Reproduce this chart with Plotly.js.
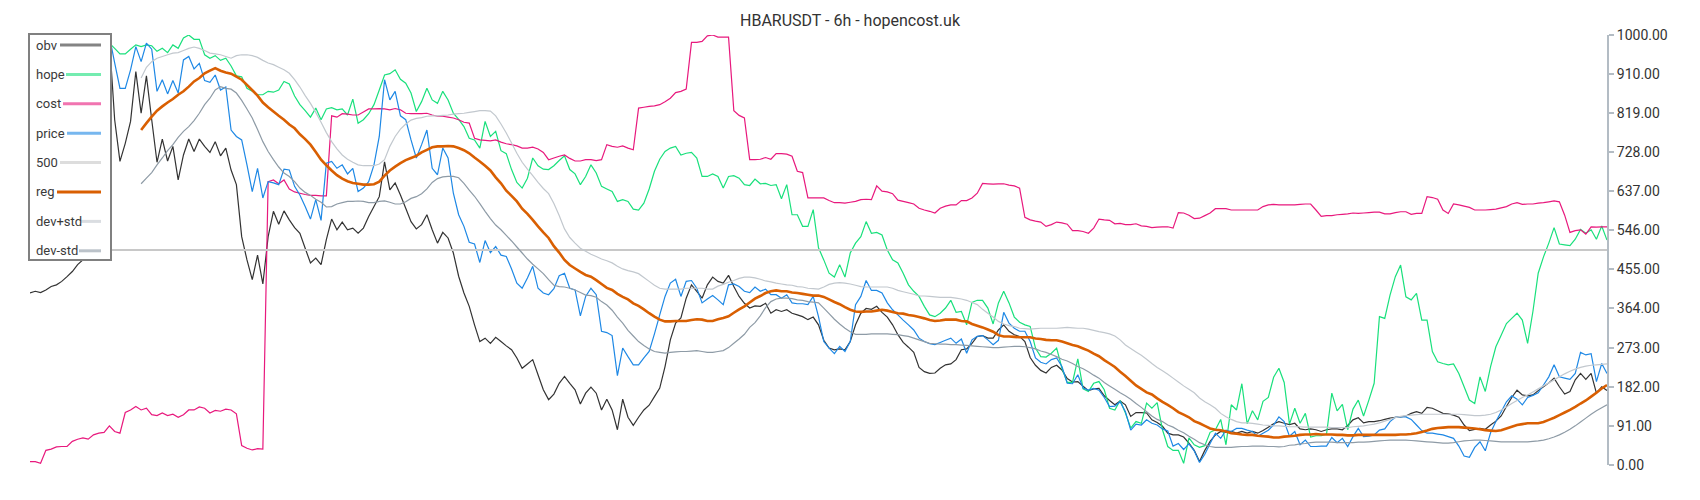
<!DOCTYPE html>
<html>
<head>
<meta charset="utf-8">
<script src="https://cdn.plot.ly/plotly-3.0.1.min.js"></script>
<style>html,body{margin:0;padding:0;background:#fff;}#chart{width:1700px;height:500px;}</style>
</head>
<body>
<div id="chart"></div>
<script>
// ---------------- data ----------------
const chartTitle = 'HBARUSDT - 6h - hopencost.uk';
const seriesNames = ['obv', 'hope', 'cost', 'price', '500', 'reg', 'dev+std', 'dev-std'];

const obv = [400,404,401,407,415,419,427,438,450,466,
 477,479,600,760,900,990,803,706,748,799,
 915,818,905,803,704,758,707,741,663,721,
 758,729,758,741,727,752,719,737,686,652,
 531,477,431,488,421,531,590,560,591,570,
 552,539,504,470,481,466,524,572,547,565,
 547,551,539,551,578,601,624,705,640,656,
 628,597,566,549,559,582,547,516,541,528,
 493,439,400,369,326,287,295,283,297,287,
 277,268,249,225,235,245,210,175,152,165,
 190,206,190,175,142,167,181,167,128,153,
 128,82,153,111,92,111,128,139,159,179,
 229,291,330,342,388,419,404,388,419,437,
 427,423,441,415,392,376,365,370,369,376,
 353,361,357,361,353,349,345,338,344,326,
 290,272,268,270,268,287,326,353,364,362,
 369,355,344,326,303,285,274,262,227,217,
 213,214,225,233,235,245,268,270,283,299,
 301,295,295,314,326,311,303,299,287,250,
 232,220,214,227,232,221,201,193,194,183,
 173,177,178,161,150,140,149,140,113,122,
 122,121,105,99,90,74,70,70,65,51,
 34,8,34,55,70,78,76,78,74,78,
 74,78,74,80,88,96,101,97,94,97,
 84,82,84,82,78,82,84,84,82,92,
 105,110,98,101,101,103,106,109,111,112,
 114,120,124,120,134,132,126,120,119,116,
 111,93,80,83,85,83,93,102,114,136,
 157,174,163,161,163,173,182,191,202,182,
 165,171,198,213,199,213,167,182,173];

const hope = [null,null,null,null,null,null,null,null,null,null,
 null,null,null,null,null,981,969,956,956,967,
 977,973,977,975,962,969,959,977,969,993,
 1000,990,990,954,946,952,941,946,928,905,
 903,876,869,861,861,869,867,872,892,886,
 858,838,824,809,830,803,828,831,826,828,
 814,851,795,803,817,838,872,907,910,919,
 897,888,865,822,845,876,849,841,869,849,
 818,804,787,760,756,737,799,764,776,731,
 724,687,657,644,667,714,696,688,687,696,
 708,719,687,677,652,671,698,679,648,642,
 636,613,617,613,595,593,609,642,683,711,
 729,737,741,721,725,727,714,671,671,677,
 671,644,671,673,667,652,650,665,654,655,
 650,652,619,652,582,582,555,555,594,505,
 477,446,437,466,437,493,516,531,566,539,
 541,535,500,477,470,446,419,404,392,369,
 349,345,353,365,383,355,357,326,378,383,
 383,365,328,377,404,377,344,332,326,322,
 272,252,251,260,272,225,192,192,247,177,
 171,190,194,175,132,128,150,121,86,101,
 97,144,132,145,82,43,34,34,4,63,
 47,41,45,76,82,106,47,140,128,189,
 96,126,105,148,157,204,225,192,95,132,
 97,120,65,68,68,72,167,126,141,82,
 130,151,114,151,190,345,341,395,438,465,
 391,384,399,337,337,264,240,236,233,235,
 213,182,151,143,205,171,229,275,302,329,
 341,353,337,283,357,446,484,516,552,514,
 512,510,525,548,539,547,525,556,523];

const cost = [8,8,4,34,37,42,43,43,55,60,
 63,60,70,74,76,91,78,74,122,128,
 136,128,132,117,115,121,115,118,111,117,
 128,128,135,132,121,127,125,130,128,119,
 45,39,35,38,37,659,663,654,663,642,
 635,632,629,627,627,626,626,812,809,817,
 816,814,814,821,828,828,829,828,826,829,
 826,818,817,817,817,818,814,811,811,809,
 807,803,797,795,760,756,755,754,756,751,
 747,745,742,737,737,739,735,727,710,714,
 718,721,713,707,707,710,710,708,710,745,
 741,739,742,737,733,830,832,834,835,838,
 845,853,866,869,874,983,983,985,998,1000,
 995,995,995,824,813,807,710,710,711,715,
 711,724,724,723,718,683,680,621,621,621,
 621,615,610,610,609,611,613,617,618,617,
 649,637,635,631,616,613,610,607,597,593,
 590,586,597,602,605,605,615,615,621,632,
 655,654,653,654,654,651,649,644,576,570,
 567,565,555,559,565,563,560,545,545,543,
 539,551,572,570,569,561,562,559,559,561,
 556,555,552,553,554,554,551,587,586,581,
 573,574,580,586,596,596,596,593,593,593,
 593,593,593,601,605,606,605,605,605,605,
 606,607,607,593,578,580,580,582,583,584,
 586,585,586,587,588,588,584,584,587,589,
 589,583,585,585,624,622,618,593,585,607,
 605,602,599,593,593,593,594,595,598,601,
 607,610,606,607,607,609,610,612,614,612,
 581,541,545,547,537,554,553,554,554];

const price = [null,null,null,null,null,null,null,null,null,null,
 null,null,null,null,null,997,935,876,876,919,
 973,938,981,967,869,896,863,894,865,942,
 950,921,934,894,890,907,872,879,779,764,
 756,698,636,690,621,659,656,652,688,686,
 648,628,601,572,617,569,702,706,690,698,
 677,690,636,644,659,698,764,896,849,869,
 812,803,756,714,745,779,690,675,737,714,
 632,582,555,518,514,471,522,494,508,488,
 485,456,423,411,435,462,411,400,396,410,
 440,446,411,407,347,392,411,396,311,308,
 301,208,272,252,233,233,249,264,305,349,
 392,423,432,392,427,429,411,377,386,394,
 384,373,419,421,415,404,401,414,404,409,
 396,396,388,396,377,375,375,373,392,345,
 287,272,259,276,264,287,373,392,429,406,
 406,400,377,361,349,337,326,314,295,287,
 282,280,285,290,295,283,293,260,291,299,
 301,291,280,290,355,330,318,311,311,287,
 249,239,235,245,249,229,190,189,210,179,
 174,178,174,157,136,137,147,124,81,95,
 93,105,97,93,84,79,44,50,36,49,
 33,6,25,50,74,62,81,78,85,85,
 81,78,67,74,81,93,112,101,67,78,
 47,58,43,43,44,44,64,52,62,43,
 66,85,66,67,70,81,84,101,111,112,
 112,106,93,80,74,74,72,70,66,62,
 44,21,18,41,54,33,75,101,124,147,
 161,153,140,157,162,168,186,205,233,205,
 202,199,213,262,256,259,194,236,213];

const level500X = [0, 298];
const level500Y = [500, 500];

const reg = [null,null,null,null,null,null,null,null,null,null,
 null,null,null,null,null,null,null,null,null,null,
 null,779,795,810,824,834,843,851,861,869,
 880,892,900,911,917,923,917,913,910,903,
 896,884,872,859,843,832,822,812,803,792,
 783,769,758,745,728,710,697,685,674,666,
 660,656,654,652,652,653,659,673,685,694,
 702,709,714,719,727,733,739,741,741,742,
 741,737,732,725,715,706,696,685,669,655,
 638,626,613,596,584,570,555,541,528,509,
 494,477,465,457,449,442,438,430,421,412,
 407,398,391,385,376,370,362,353,345,338,
 334,334,335,335,335,337,339,338,335,335,
 339,342,346,354,362,369,378,387,393,400,
 404,406,404,404,401,400,398,396,394,394,
 391,385,379,374,367,361,357,356,357,357,
 359,361,359,356,353,352,349,347,344,341,
 337,335,336,338,338,338,335,334,328,324,
 320,315,310,302,299,299,298,297,297,297,
 294,293,291,290,290,287,283,279,276,271,
 266,259,253,244,236,228,217,207,196,185,
 177,169,164,155,147,140,132,123,117,111,
 102,97,91,85,82,81,78,74,73,71,
 70,70,68,67,66,64,64,66,67,68,
 70,71,71,72,71,71,71,70,70,69,
 69,70,70,70,70,70,70,70,70,71,
 71,72,74,77,80,84,86,87,88,88,
 88,87,86,85,83,81,80,79,81,85,
 89,93,95,97,97,97,100,105,110,116,
 122,128,135,143,150,159,168,178,186];

const devPlus = [null,null,null,null,null,null,null,null,null,null,
 null,null,null,null,null,null,null,null,null,null,
 null,900,925,938,946,950,954,958,959,964,
 969,972,969,964,958,956,954,950,946,952,
 954,954,952,948,941,935,931,925,919,911,
 896,879,859,841,820,797,773,752,735,721,
 711,704,698,696,696,696,700,710,741,764,
 781,793,802,806,808,811,812,812,813,814,
 816,817,818,820,822,824,824,823,812,793,
 772,749,725,704,688,673,657,643,631,608,
 580,549,529,516,504,497,490,485,479,475,
 470,462,456,452,449,445,436,427,418,411,
 409,409,409,409,411,411,411,411,409,409,
 416,420,425,429,434,437,437,435,432,428,
 426,423,421,419,418,415,414,411,410,409,
 414,420,423,424,423,421,418,415,414,414,
 414,414,414,411,406,403,400,397,393,393,
 392,391,390,390,390,388,386,383,378,373,
 362,353,344,334,328,324,322,318,317,316,
 317,318,318,318,318,319,320,319,318,318,
 316,313,310,308,305,300,291,279,271,263,
 255,246,236,227,219,211,202,193,184,176,
 168,156,147,140,132,120,112,106,101,98,
 98,97,95,93,92,91,91,90,89,89,
 89,88,88,88,88,88,87,87,87,87,
 89,90,91,93,95,98,102,106,110,113,
 115,116,117,118,118,118,118,118,118,118,
 118,117,116,115,115,116,118,122,128,135,
 143,150,157,163,170,177,184,191,198,205,
 212,218,223,227,230,232,233,234,235];

const devMinus = [null,null,null,null,null,null,null,null,null,null,
 null,null,null,null,null,null,null,null,null,null,
 null,654,667,680,698,714,731,745,762,776,
 787,801,818,838,853,872,880,876,874,865,
 848,828,807,780,752,729,710,693,679,671,
 659,644,634,627,618,611,600,601,607,610,
 613,613,614,613,610,610,613,614,611,607,
 607,612,620,624,631,642,657,666,670,671,
 671,668,655,639,625,608,590,573,558,547,
 534,521,507,493,479,467,456,445,431,418,
 415,414,411,407,401,395,394,390,380,372,
 360,344,330,313,300,287,278,270,264,262,
 260,262,263,264,264,265,266,264,262,262,
 264,266,273,283,293,304,320,331,347,366,
 380,386,388,388,387,384,383,380,379,377,
 365,352,339,328,318,310,304,304,304,305,
 305,305,305,304,303,301,299,295,291,287,
 283,282,281,281,280,280,279,278,277,276,
 275,274,273,273,274,275,276,276,275,273,
 270,265,262,257,252,246,242,236,229,224,
 217,209,202,192,184,176,168,161,153,143,
 134,124,114,106,101,93,88,81,75,67,
 60,52,47,43,41,41,41,41,42,43,
 43,44,44,44,43,43,42,43,46,47,
 49,50,52,53,53,53,53,52,52,52,
 52,53,53,54,55,56,57,58,58,58,
 58,57,56,55,54,53,52,51,51,52,
 54,56,57,58,58,57,56,55,54,54,
 54,54,54,54,55,56,58,61,65,70,
 76,83,91,100,109,118,126,133,140];

const yTickVals = [0, 91, 182, 273, 364, 455, 546, 637, 728, 819, 910, 1000];
const yTickText = ['0.00','91.00','182.00','273.00','364.00','455.00','546.00','637.00','728.00','819.00','910.00','1000.00'];

// ---------------- sanity ----------------
[['obv',obv],['hope',hope],['cost',cost],['price',price],['reg',reg],['devPlus',devPlus],['devMinus',devMinus]].forEach(([n,a]) => {
  if (a.length !== obv.length) throw new Error(n + ' length ' + a.length + ' vs ' + obv.length);
});

// ---------------- traces ----------------
const idx = obv.map((_, i) => i);
const styles = {
  'obv':     {color: '#333333', width: 1.2},
  'hope':    {color: '#19e07c', width: 1.2},
  'cost':    {color: '#e8197d', width: 1.2},
  'price':   {color: '#1e88e5', width: 1.2},
  '500':     {color: '#c8c8c8', width: 2},
  'reg':     {color: '#d95f02', width: 2.6},
  'dev+std': {color: '#c2c8ce', width: 1.2},
  'dev-std': {color: '#8e9ba6', width: 1.2}
};
const ys = {'obv': obv, 'hope': hope, 'cost': cost, 'price': price, 'reg': reg, 'dev+std': devPlus, 'dev-std': devMinus};
const traces = seriesNames.map(name => {
  const isLevel = name === '500';
  return {
    type: 'scatter', mode: 'lines', name: name,
    x: isLevel ? level500X : idx,
    y: isLevel ? level500Y : ys[name],
    line: {color: styles[name].color, width: styles[name].width, simplify: false},
    hoverinfo: 'skip'
  };
});

// ---------------- custom legend (text left, swatch right) ----------------
const M = {l: 30, r: 93, t: 35, b: 35};
const W = 1700, H = 500;
const pw = W - M.l - M.r, ph = H - M.t - M.b;
const px2x = p => (p - M.l) / pw;
const px2y = p => (H - M.b - p) / ph;
const swatchStart = [60, 66, 63, 67, 60, 57, 81, 79];
const shapes = [{
  type: 'rect', xref: 'paper', yref: 'paper', layer: 'above',
  x0: px2x(29), x1: px2x(111), y0: px2y(260), y1: px2y(34),
  fillcolor: '#ffffff', line: {color: '#808080', width: 2}
}];
const annotations = [];
seriesNames.forEach((name, k) => {
  const yc = 45 + 29.4 * k;
  annotations.push({
    xref: 'paper', yref: 'paper', x: px2x(34), y: px2y(yc), xanchor: 'left', yanchor: 'middle',
    text: name, showarrow: false, font: {family: 'Roboto, sans-serif', size: 13, color: '#3a3a3a'}
  });
  shapes.push({
    type: 'line', xref: 'paper', yref: 'paper', layer: 'above',
    x0: px2x(swatchStart[k]), x1: px2x(101), y0: px2y(yc), y1: px2y(yc),
    line: {color: styles[name].color, width: 3}, opacity: name === 'reg' ? 1 : 0.6
  });
});

const layout = {
  width: W, height: H,
  margin: M,
  paper_bgcolor: '#ffffff', plot_bgcolor: '#ffffff',
  font: {family: 'Roboto, sans-serif', color: '#333'},
  title: {text: chartTitle, x: 0.5, xref: 'container', xanchor: 'center',
          y: 1 - 20.5 / H, yref: 'container', yanchor: 'middle',
          font: {family: 'Roboto, sans-serif', size: 16, color: '#333'}},
  showlegend: false,
  xaxis: {visible: false, range: [0, obv.length - 1], fixedrange: true},
  yaxis: {side: 'right', range: [0, 1000], tickvals: yTickVals, ticktext: yTickText,
          showline: true, linecolor: '#b3bcc4', linewidth: 2,
          ticks: 'outside', ticklen: 5, tickwidth: 2, tickcolor: '#b3bcc4',
          showgrid: false, zeroline: false, fixedrange: true,
          tickfont: {family: 'Roboto, sans-serif', size: 14, color: '#333'}},
  shapes: shapes,
  annotations: annotations
};

Plotly.newPlot('chart', traces, layout, {staticPlot: true, displayModeBar: false});
</script>
</body>
</html>
